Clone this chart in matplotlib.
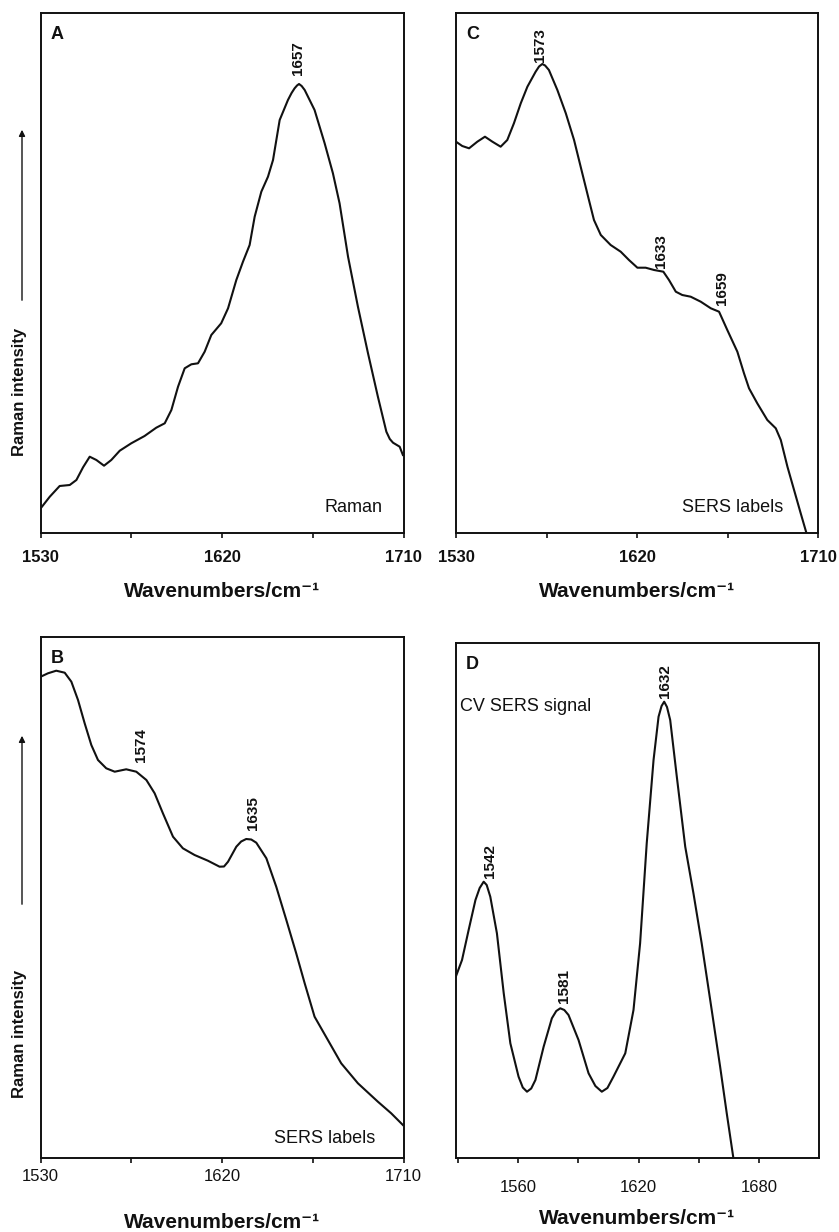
import matplotlib
matplotlib.use("Agg")
import matplotlib.pyplot as plt
from matplotlib.ticker import FixedLocator

plt.rcParams['font.family'] = ['Liberation Sans', 'DejaVu Sans']

# ---- data (wavenumber, intensity in arbitrary units) ----
# A: Raman
a_wn = [1530.1, 1534.6, 1539.5, 1544.5, 1547.8, 1551.1, 1554.4, 1557.7, 1561.5, 1565.1,
        1569.3, 1575.0, 1581.6, 1587.4, 1591.6, 1594.9, 1598.2, 1601.5, 1604.8, 1608.1,
        1611.4, 1614.7, 1619.6, 1623.0, 1627.1, 1630.4, 1633.7, 1636.2, 1639.5, 1642.8,
        1645.3, 1648.6, 1652.7, 1654.5, 1656.0, 1657.2, 1658.2, 1659.5, 1661.0, 1665.9,
        1670.9, 1675.0, 1678.3, 1682.5, 1687.4, 1692.4, 1697.3, 1701.5, 1703.2, 1704.8,
        1708.1, 1709.7]
a_int = [24.7, 36.3, 47, 48, 53, 65.7, 76.3, 73, 67.3, 73,
         82.3, 89.7, 97, 105.3, 109.7, 123, 146.3, 164.7, 168.7, 169.7,
         181.3, 198, 209.7, 224.7, 253, 271.3, 288, 316.3, 341.3, 356.3,
         373, 413, 433, 440, 444.7, 447.5, 449, 447, 443, 423,
         389.7, 359.7, 329.7, 276.3, 226.3, 179.7, 136.3, 101.3, 94, 90.3,
         86.3, 78]

# C: SERS labels
c_wn = [1530.0, 1533.1, 1536.5, 1540.6, 1544.4, 1548.1, 1552.2, 1555.5, 1558.8, 1562.2,
        1565.5, 1569.6, 1571.3, 1572.9, 1574.3, 1576.2, 1580.4, 1584.6, 1588.7, 1592.8,
        1596.1, 1598.6, 1602.0, 1606.9, 1611.9, 1616.0, 1620.2, 1624.3, 1628.5, 1633.1,
        1635.9, 1639.3, 1642.5, 1646.7, 1651.7, 1656.7, 1660.8, 1664.9, 1669.9, 1673.2,
        1675.7, 1679.8, 1684.8, 1689.0, 1691.5, 1694.8, 1698.1, 1701.4, 1704.2]
c_int = [391.3, 387, 384.7, 391.3, 396.3, 391.3, 386.3, 393, 409.7, 429.7,
         446.3, 461.3, 466.5, 469, 467.5, 463, 443, 419.7, 393, 359.7,
         333, 313, 298, 288, 281.3, 273, 265.3, 265.3, 263, 261.3,
         253, 241.3, 238, 236.3, 231.3, 224.7, 221.3, 203, 181.3, 159.7,
         144.7, 129.7, 113, 104.7, 93, 66.3, 43, 19.7, 0.3]

# B: SERS labels
b_wn = [1530.1, 1533.7, 1537.8, 1542.0, 1545.3, 1548.6, 1551.9, 1555.2, 1558.5, 1562.6,
        1566.8, 1572.5, 1577.5, 1582.5, 1586.6, 1590.7, 1595.7, 1600.6, 1606.4, 1613.0,
        1618.8, 1621.0, 1623.0, 1627.1, 1629.5, 1632.0, 1634.5, 1637.0, 1642.0, 1646.9,
        1651.9, 1656.8, 1661.0, 1665.9, 1672.5, 1679.1, 1687.4, 1697.3, 1703.9, 1709.7]
b_int = [481.3, 484.7, 487.3, 485.3, 476.3, 458, 434.7, 413, 398, 389.7,
         386.3, 388.7, 386.3, 378, 364.7, 344.7, 321.3, 309.7, 303, 297.3,
         291.3, 291.5, 296.3, 311.3, 316.5, 319, 318.5, 315.3, 299.7, 271.3,
         238, 204.7, 174.7, 141.3, 118, 94.7, 74.7, 56.3, 44.7, 33]

# D: CV SERS signal
d_wn = [1528.9, 1532.0, 1535.3, 1538.7, 1540.8, 1542.8, 1544.3, 1546.1, 1549.4, 1552.8,
        1556.1, 1560.2, 1562.3, 1564.4, 1566.5, 1568.6, 1572.7, 1576.8, 1579.0, 1581.0,
        1583.0, 1585.1, 1590.1, 1595.1, 1598.5, 1601.7, 1604.5, 1607.5, 1613.4, 1617.5,
        1620.8, 1624.1, 1627.5, 1630.0, 1631.5, 1632.8, 1634.2, 1635.8, 1639.1, 1643.3,
        1647.4, 1651.5, 1656.5, 1660.7, 1664.0, 1667.3]
d_int = [181.3, 198, 228, 258, 270, 276.3, 273, 261.3, 224.7, 164.7,
         114.7, 81.3, 70.5, 66.3, 69.5, 78, 111.3, 139.7, 147, 149.7,
         148, 143, 118, 84.7, 72, 66.3, 70, 81.3, 104.7, 148,
         214.7, 314.7, 398, 441.3, 452, 456.3, 451, 438, 381.3, 311.3,
         264.7, 214.7, 148, 91.3, 44.7, 0]

# peak labels: text, x, y
a_peaks = [("1657", 1657.7, 458)]
c_peaks = [("1573", 1572.0, 471), ("1633", 1631.8, 265), ("1659", 1662.4, 228)]
b_peaks = [("1574", 1580.0, 396), ("1635", 1635.4, 328)]
d_peaks = [("1542", 1545.8, 280), ("1581", 1583.0, 155), ("1632", 1633.3, 460)]

W, H = 839, 1232
fig = plt.figure(figsize=(W / 100, H / 100), dpi=100)


def make_panel(left, top, right, bottom, wn, inten, peaks, letter, note, note_pos,
               xlim, ylim, majors, minors, bold_ticks, tick_pad, labelpad, note_ha='right',
               note_va='baseline'):
    ax = fig.add_axes([left / W, 1 - bottom / H, (right - left) / W, (bottom - top) / H])
    ax.plot(wn, inten, color='#111111', lw=1.5, solid_joinstyle='round')
    ax.set_xlim(*xlim)
    ax.set_ylim(*ylim)
    for s in ax.spines.values():
        s.set_linewidth(1.4)
        s.set_color('#111111')
    ax.set_yticks([])
    ax.xaxis.set_major_locator(FixedLocator(majors))
    ax.xaxis.set_minor_locator(FixedLocator(minors))
    ax.tick_params(axis='x', which='both', direction='out', length=3.6, width=1.2,
                   color='#111111', pad=tick_pad, labelsize=12)
    for lab in ax.get_xticklabels():
        lab.set_fontweight('bold' if bold_ticks else 'normal')
        lab.set_color('#111111')
    ax.set_xlabel('Wavenumbers/cm\u207b\u00b9', fontsize=15, fontweight='bold',
                  labelpad=labelpad, color='#111111')
    ax.text(0.027, 0.975, letter, transform=ax.transAxes, fontsize=13,
            fontweight='bold', ha='left', va='top', color='#111111')
    ax.text(note_pos[0], note_pos[1], note, transform=ax.transAxes, fontsize=13,
            ha=note_ha, va=note_va, color='#111111')
    for txt, px, py in peaks:
        ax.text(px, py, txt, rotation=90, ha='center', va='bottom', fontsize=11,
                fontweight='bold', color='#111111')
    return ax


make_panel(40.5, 13, 403.5, 533, a_wn, a_int, a_peaks, 'A', 'Raman', (0.941, 0.040),
           (1530, 1710), (0, 520), [1530, 1620, 1710], [1575, 1665], True, 9, 12)
make_panel(456, 13, 818, 533, c_wn, c_int, c_peaks, 'C', 'SERS labels', (0.903, 0.040),
           (1530, 1710), (0, 520), [1530, 1620, 1710], [1575, 1665], True, 9, 12)
make_panel(40.5, 637, 403.5, 1158, b_wn, b_int, b_peaks, 'B', 'SERS labels', (0.921, 0.029),
           (1530, 1710), (0, 521), [1530, 1620, 1710], [1575, 1665], False, 4, 21)
make_panel(456, 643, 819, 1158, d_wn, d_int, d_peaks, 'D', 'CV SERS signal', (0.011, 0.893),
           (1529, 1710), (0, 515), [1560, 1620, 1680], [1530, 1590, 1650], False, 12, 10,
           note_ha='left', note_va='top')

# y labels with upward arrows
for lab_y, arr_lo, arr_hi in [(391.5, 303, 127), (1033.5, 907, 733)]:
    fig.text(20 / W, 1 - lab_y / H, 'Raman intensity', rotation=90, fontsize=12,
             fontweight='bold', ha='center', va='center', color='#111111')
    fig.add_artist(matplotlib.patches.FancyArrowPatch(
        (22 / W, 1 - arr_lo / H), (22 / W, 1 - arr_hi / H), transform=fig.transFigure,
        arrowstyle='-|>', mutation_scale=9, lw=1.0, color='#111111'))

fig.savefig('out.png', dpi=100)
